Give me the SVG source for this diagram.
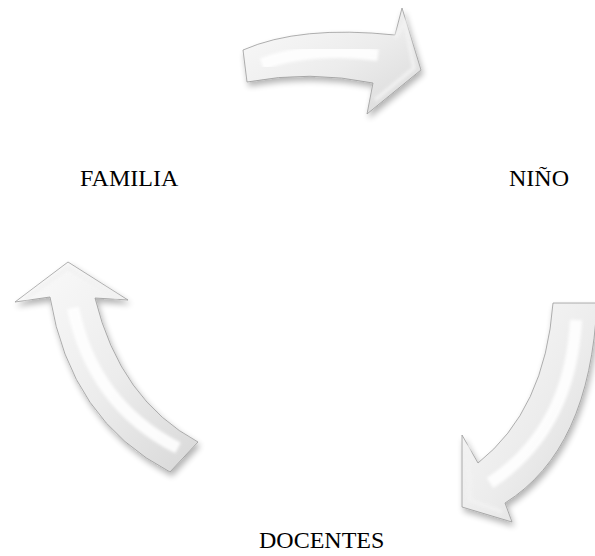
<svg xmlns="http://www.w3.org/2000/svg" width="595" height="556" viewBox="0 0 595 556">
  <style>
    .lbl { font-family: "Liberation Serif", "Times New Roman", serif; font-size: 24px; fill: #000; }
    .arrow { fill: url(#g); stroke: #9a9a9a; stroke-width: 0.8; stroke-linejoin: miter; filter: url(#sh); }
    .hl { fill: none; stroke: #ffffff; stroke-width: 12; stroke-linecap: butt; opacity: 0.9; filter: url(#soft); }
    .hl2 { fill: none; stroke: #f2f2f2; stroke-width: 4; opacity: 0.9; filter: url(#soft); }
  </style>
  <defs>
    <linearGradient id="g" x1="0" y1="0" x2="1" y2="1">
      <stop offset="0" stop-color="#fbfbfb"/>
      <stop offset="0.55" stop-color="#ececec"/>
      <stop offset="1" stop-color="#d8d8d8"/>
    </linearGradient>
    <filter id="sh" x="-20%" y="-20%" width="140%" height="140%">
      <feGaussianBlur in="SourceAlpha" stdDeviation="3"/>
      <feOffset dx="2" dy="4" result="b"/>
      <feComponentTransfer><feFuncA type="linear" slope="0.3"/></feComponentTransfer>
      <feMerge><feMergeNode/><feMergeNode in="SourceGraphic"/></feMerge>
    </filter>
    <filter id="soft" x="-20%" y="-20%" width="140%" height="140%">
      <feGaussianBlur stdDeviation="1.5"/>
    </filter>
  </defs>
  <rect width="595" height="556" fill="#ffffff"/>
  <g id="connectors">
    <g id="arrow-top">
      <path class="arrow" d="M243,50 Q300,25 395,35 L402,8 L421,70 L367,114 L373,83 Q310,70 247,82 Z"/>
      <path class="hl" d="M262,64 Q310,46 378,55"/>
      <path class="hl2" d="M395,38 L405,22 L414,68 L375,100"/>
    </g>
    <g id="arrow-right">
      <path class="arrow" d="M553,303 L597,303 Q590,450 505,503 L512,522 L462,507 L462,435 L478,463 Q545,410 553,303 Z"/>
      <path class="hl" d="M576,320 Q570,430 490,483"/>
      <path class="hl2" d="M468,445 L470,500 L502,512"/>
    </g>
    <g id="arrow-left">
      <path class="arrow" d="M68,262 L128,300 L95,298 Q120,400 198,442 L170,472 Q70,420 50,297 L15,302 Z"/>
      <path class="hl" d="M73,308 Q93,405 178,448"/>
      <path class="hl2" d="M25,299 L68,268 L118,298"/>
    </g>
  </g>
  <g id="node-familia"><text class="lbl" x="80" y="186">FAMILIA</text></g>
  <g id="node-nino"><text class="lbl" x="509" y="186">NIÑO</text></g>
  <g id="node-docentes"><text class="lbl" x="259" y="548">DOCENTES</text></g>
</svg>
